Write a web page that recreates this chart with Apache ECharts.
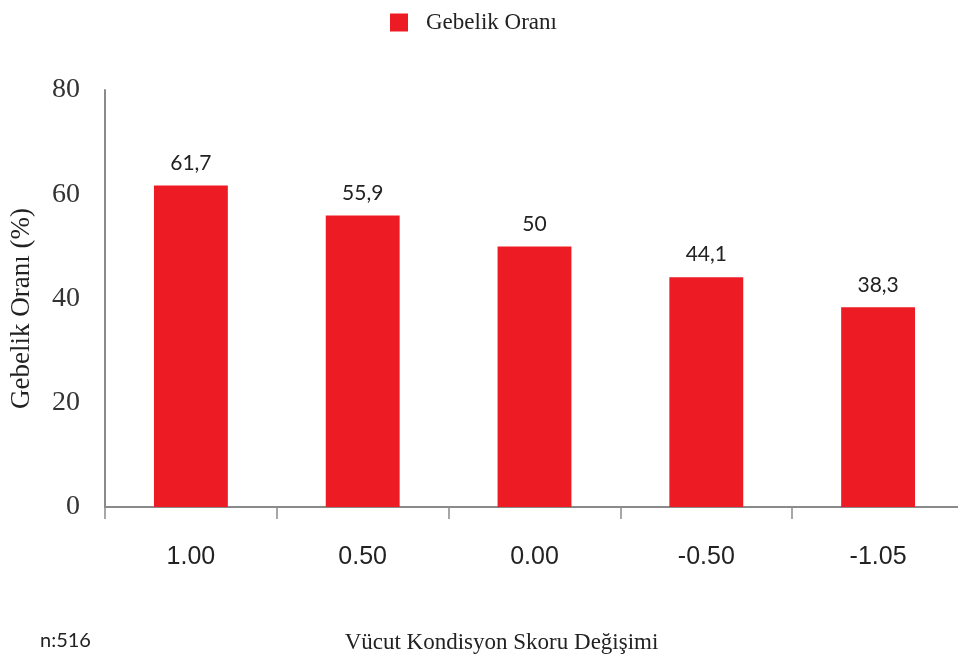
<!DOCTYPE html>
<html><head><meta charset="utf-8">
<script src="https://cdn.jsdelivr.net/npm/echarts@6/dist/echarts.min.js"></script>
<style>html,body{margin:0;padding:0;background:#fff;overflow:hidden}#c{width:964px;height:664px}</style>
</head><body><div id="c"></div>
<script>
const categories = ['1.00', '0.50', '0.00', '-0.50', '-1.05'];
const pregnancyRate = [61.7, 55.9, 50, 44.1, 38.3];
const seriesName = 'Gebelik Oranı';
const yTitle = 'Gebelik Oranı (%)';
const xTitle = 'Vücut Kondisyon Skoru Değişimi';
const note = 'n:516';

const chart = echarts.init(document.getElementById('c'), null, {renderer: 'canvas'});
chart.setOption({
  animation: false,
  backgroundColor: '#fff',
  legend: {
    top: 6, left: 385,
    itemWidth: 18, itemHeight: 18, itemGap: 10,
    icon: 'rect',
    textStyle: {fontFamily: 'Liberation Serif', fontSize: 23, color: '#222', padding: [0, 0, 0, 13]},
    data: [seriesName]
  },
  grid: {left: 105, right: 0, top: 90, bottom: 157, containLabel: false},
  xAxis: {
    type: 'category', data: categories,
    axisLine: {lineStyle: {color: '#8a8a8a', width: 2}},
    axisTick: {show: true, length: 12, lineStyle: {color: '#8a8a8a', width: 1.5}},
    axisLabel: {margin: 38, fontFamily: 'Liberation Sans', fontSize: 25, color: '#222'},
    name: xTitle, nameLocation: 'middle', nameGap: 124,
    nameTextStyle: {fontFamily: 'Liberation Serif', fontSize: 23, color: '#222', padding: [0, 66, 0, 0]}
  },
  yAxis: {
    type: 'value', min: 0, max: 80, interval: 20,
    axisLine: {show: true, lineStyle: {color: '#8a8a8a', width: 2}},
    axisTick: {show: false},
    splitLine: {show: false},
    axisLabel: {margin: 25, fontFamily: 'Liberation Serif', fontSize: 28, color: '#333'},
    name: yTitle, nameLocation: 'middle', nameGap: 70,
    nameTextStyle: {fontFamily: 'Liberation Serif', fontSize: 27, color: '#222', padding: [0, 20, 0, 0]}
  },
  series: [{
    name: seriesName, type: 'bar', data: pregnancyRate, barWidth: '43%',
    itemStyle: {color: '#ed1c24'},
    label: {
      show: true, position: 'top', distance: 12,
      fontFamily: 'Lato', fontSize: 21, color: '#222',
      formatter: p => String(p.value).replace('.', ',')
    }
  }],
  graphic: [{
    type: 'text', left: 40, top: 631,
    style: {text: note, font: '20px Lato', fill: '#222'}
  }]
});
</script></body></html>
